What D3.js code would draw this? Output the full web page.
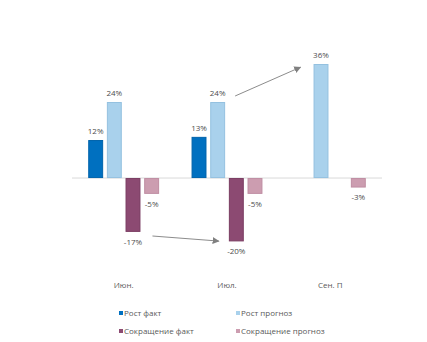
<!DOCTYPE html>
<html>
<head>
<meta charset="utf-8">
<script src="https://cdn.jsdelivr.net/npm/d3@7/dist/d3.min.js"></script>
<style>
  html, body { margin: 0; padding: 0; background: #fff; }
  svg { display: block; font-family: "Open Sans", "Noto Sans", sans-serif; }
</style>
</head>
<body>
<svg id="chart" width="427" height="342"></svg>
<script>
// Months on the category axis
const categories = ["Июн.", "Июл.", "Сен. П"];
// Series names (legend order)
const seriesNames = ["Рост факт", "Рост прогноз", "Сокращение факт", "Сокращение прогноз"];
// Values in percent; null = no bar for that month
const growthFact     = [12, 13, null];
const growthForecast = [24, 24, 36];
const cutFact        = [-17, -20, null];
const cutForecast    = [-5, -5, -3];

const seriesValues = [growthFact, growthForecast, cutFact, cutForecast];
const fills   = ["#0070c0", "#a9d1ec", "#8c4a72", "#cc9db0"];
const strokes = ["#0063ab", "#94c1e0", "#7a3c62", "#bf8da2"];

const svg = d3.select("#chart");

const x = d3.scaleBand().domain(categories).range([72, 382]).paddingInner(0).paddingOuter(0);
const inner = d3.scaleBand().domain(d3.range(4))
  .range([x.bandwidth() * 0.157, x.bandwidth() * 0.843]).paddingInner(0.2);
const y = d3.scaleLinear().domain([-20, 36]).range([241.4, 64]);

// zero line
svg.append("line")
  .attr("x1", x.range()[0]).attr("x2", x.range()[1])
  .attr("y1", y(0)).attr("y2", y(0))
  .attr("stroke", "#d9d9d9").attr("stroke-width", 1);

// bars
const rows = [];
seriesValues.forEach((vals, s) => {
  vals.forEach((v, c) => { if (v !== null) rows.push({ s, c, v }); });
});

const g = svg.append("g");
g.selectAll("rect").data(rows).join("rect")
  .attr("x", d => x(categories[d.c]) + inner(d.s) + 0.5)
  .attr("width", inner.bandwidth() - 1)
  .attr("y", d => Math.min(y(d.v), y(0)) + 0.5)
  .attr("height", d => Math.abs(y(d.v) - y(0)) - 1)
  .attr("fill", d => fills[d.s])
  .attr("stroke", d => strokes[d.s])
  .attr("stroke-width", 1);

// value labels
g.selectAll("text.val").data(rows).join("text")
  .attr("class", "val")
  .attr("x", d => x(categories[d.c]) + inner(d.s) + inner.bandwidth() / 2)
  .attr("y", d => d.v >= 0 ? y(d.v) - 9 : y(d.v) + 10)
  .attr("dy", "0.35em")
  .attr("text-anchor", "middle")
  .attr("font-size", 8)
  .attr("fill", "#4d4d4d")
  .text(d => d.v + "%");

// category labels
svg.append("g").selectAll("text").data(categories).join("text")
  .attr("x", d => x(d) + x.bandwidth() / 2)
  .attr("y", 285)
  .attr("dy", "0.35em")
  .attr("text-anchor", "middle")
  .attr("font-size", 8)
  .attr("fill", "#595959")
  .text(d => d);

// trend arrows between months
const defs = svg.append("defs");
defs.append("marker")
  .attr("id", "arrowhead")
  .attr("viewBox", "0 0 10 10")
  .attr("refX", 9).attr("refY", 5)
  .attr("markerWidth", 7).attr("markerHeight", 7)
  .attr("markerUnits", "userSpaceOnUse")
  .attr("orient", "auto")
  .append("path").attr("d", "M0,0 L10,5 L0,10 Z").attr("fill", "#808080");

const arrows = [
  { x1: x(categories[1]) + inner(1) + inner.bandwidth() + 10, y1: y(25.9),
    x2: x(categories[2]) + inner(1) - 13, y2: y(35) },
  { x1: x(categories[0]) + inner(2) + inner.bandwidth() + 12, y1: y(-18.3),
    x2: x(categories[1]) + inner(2) - 10, y2: y(-19.9) }
];
svg.append("g").selectAll("line").data(arrows).join("line")
  .attr("x1", d => d.x1).attr("y1", d => d.y1)
  .attr("x2", d => d.x2).attr("y2", d => d.y2)
  .attr("stroke", "#8c8c8c").attr("stroke-width", 1)
  .attr("marker-end", "url(#arrowhead)");

// legend, two columns
const legendPos = [
  { x: 119, y: 313 }, { x: 236, y: 313 },
  { x: 119, y: 331 }, { x: 236, y: 331 }
];
const lg = svg.append("g").selectAll("g").data(seriesNames).join("g")
  .attr("transform", (d, i) => `translate(${legendPos[i].x},${legendPos[i].y})`);
lg.append("rect")
  .attr("x", 0).attr("y", -2).attr("width", 4).attr("height", 4)
  .attr("fill", (d, i) => fills[i]);
lg.append("text")
  .attr("x", 5).attr("y", 0).attr("dy", "0.35em")
  .attr("font-size", 8).attr("fill", "#595959")
  .text(d => d);
</script>
</body>
</html>
